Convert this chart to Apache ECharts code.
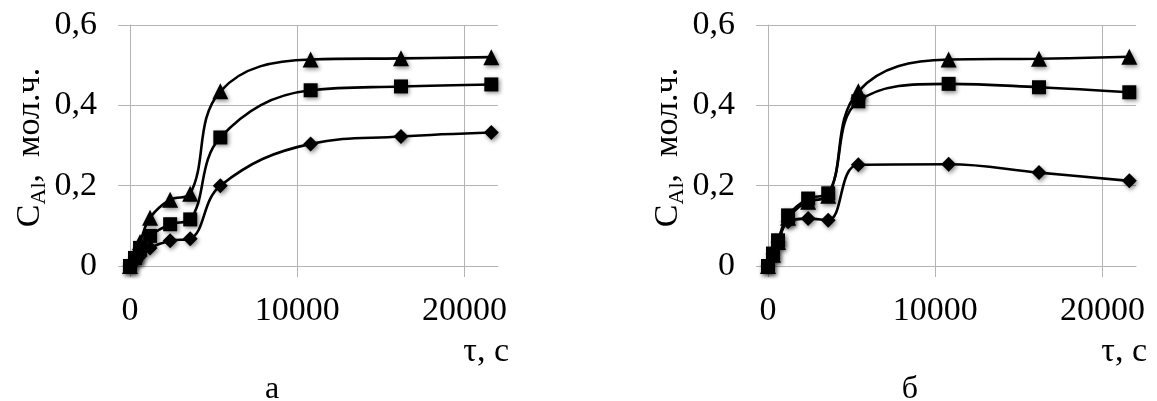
<!DOCTYPE html>
<html>
<head>
<meta charset="utf-8">
<script src="https://cdn.jsdelivr.net/npm/echarts@6/dist/echarts.min.js"></script>
<style>
html,body{margin:0;padding:0;background:#fff;}
#c{width:1157px;height:401px;}
</style>
</head>
<body>
<div id="c"></div>
<script>
// Time points, s
var times = [0, 300, 600, 1200, 2400, 3600, 5400, 10800, 16200, 21600];
// Panel a
var aTriangles = [0, 0.03, 0.06, 0.12, 0.165, 0.18, 0.435, 0.514, 0.517, 0.52];
var aSquares   = [0, 0.02, 0.045, 0.075, 0.104, 0.116, 0.32, 0.4375, 0.447, 0.452];
var aDiamonds  = [0, 0.012, 0.025, 0.045, 0.063, 0.068, 0.2, 0.304, 0.3225, 0.3325];
// Panel б
var bTriangles = [0, 0.028, 0.06, 0.12, 0.16, 0.175, 0.435, 0.514, 0.516, 0.521];
var bSquares   = [0, 0.031, 0.064, 0.126, 0.168, 0.181, 0.41, 0.4535, 0.445, 0.4325];
var bDiamonds  = [0, 0.03, 0.06, 0.11, 0.118, 0.114, 0.252, 0.2535, 0.2325, 0.212];
// Axis tick labels
var xLabelValues = [0, 10000, 20000];
var yTickLabels = ['0', '0,2', '0,4', '0,6'];
var xName = 'τ, с';
var panelNames = ['а', 'б'];

var FONT = "'Liberation Serif', 'Times New Roman', serif";
var GRID = '#b4b4b4';

function pairs(ys){ return times.map(function(t,i){ return [t, ys[i]]; }); }

function xAxisFor(idx){
  return {
    type:'value', gridIndex:idx, min:0, max:22000, interval:2000,
    axisLine:{show:true, lineStyle:{color:GRID, width:1}},
    axisTick:{show:true, length:11, lineStyle:{color:GRID}, customValues:xLabelValues},
    splitLine:{show:true, lineStyle:{color:GRID, width:1}},
    axisLabel:{customValues:xLabelValues, fontFamily:FONT, fontSize:34, color:'#000', margin:28,
      formatter:function(v){ return String(v); }}
  };
}
function yAxisFor(idx, gap){
  return {
    type:'value', gridIndex:idx, min:0, max:0.6, interval:0.2,
    axisLine:{show:true, lineStyle:{color:GRID, width:1}},
    axisTick:{show:true, length:12, lineStyle:{color:GRID}},
    splitLine:{show:true, lineStyle:{color:GRID, width:1}},
    axisLabel:{fontFamily:FONT, fontSize:34, color:'#000', margin:33,
      formatter:function(v){ return yTickLabels[Math.round(v/0.2)]; }},
    name:'{c|C}{s|Al}{t|,  мол.ч.}',
    nameLocation:'middle', nameRotate:90, nameGap:gap,
    nameTextStyle:{
      padding:[0,4,0,0],
      rich:{
        c:{fontFamily:FONT, fontSize:34, color:'#000', lineHeight:34, verticalAlign:'middle'},
        s:{fontFamily:FONT, fontSize:22, color:'#000', lineHeight:42, verticalAlign:'bottom'},
        t:{fontFamily:FONT, fontSize:34, color:'#000', lineHeight:34, verticalAlign:'middle'}
      }
    }
  };
}
function ser(idx, data, symbol, size){
  return {
    type:'line', xAxisIndex:idx, yAxisIndex:idx, data:pairs(data),
    smooth:0.4, symbol:symbol, symbolSize:size,
    lineStyle:{color:'#000', width:2.6},
    itemStyle:{color:'#000', shadowBlur:4, shadowColor:'rgba(0,0,0,0.45)', shadowOffsetX:1.5, shadowOffsetY:2},
    z:3, animation:false
  };
}

var chart = echarts.init(document.getElementById('c'), null, {renderer:'canvas'});
chart.setOption({
  animation:false,
  backgroundColor:'#fff',
  grid:[
    {left:130, top:25, width:368, height:241},
    {left:768, top:25, width:368, height:241}
  ],
  xAxis:[xAxisFor(0), xAxisFor(1)],
  yAxis:[yAxisFor(0, 62), yAxisFor(1, 74)],
  series:[
    ser(0, aTriangles, 'triangle', 16),
    ser(0, aDiamonds, 'diamond', 15),
    ser(0, aSquares, 'rect', 14),
    ser(1, bTriangles, 'triangle', 16),
    ser(1, bDiamonds, 'diamond', 15),
    ser(1, bSquares, 'rect', 14)
  ],
  graphic:[
    {type:'text', x:509, y:352, style:{text:xName, font:'34px '+FONT, fill:'#000', align:'right', verticalAlign:'middle'}},
    {type:'text', x:1147, y:352, style:{text:xName, font:'34px '+FONT, fill:'#000', align:'right', verticalAlign:'middle'}},
    {type:'text', x:272, y:390, style:{text:panelNames[0], font:'32px '+FONT, fill:'#000', align:'center', verticalAlign:'middle'}},
    {type:'text', x:910, y:390, style:{text:panelNames[1], font:'32px '+FONT, fill:'#000', align:'center', verticalAlign:'middle'}}
  ]
});
</script>
</body>
</html>
